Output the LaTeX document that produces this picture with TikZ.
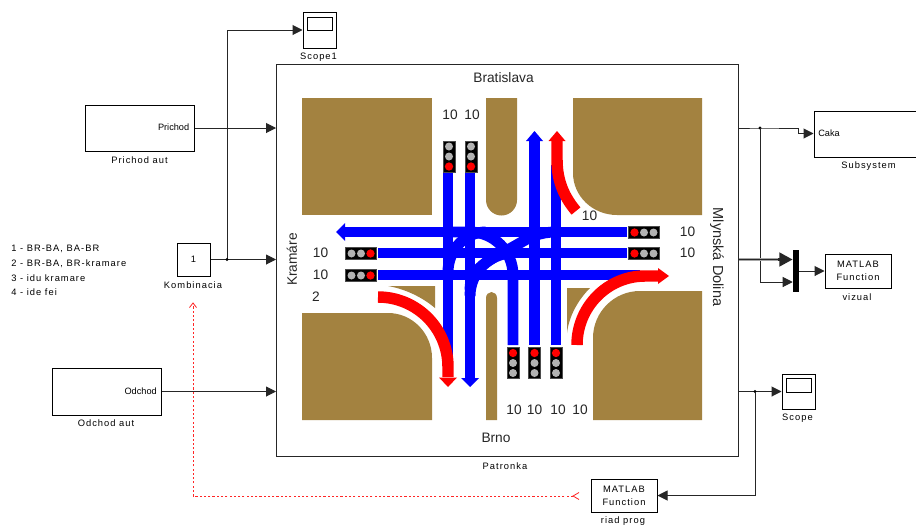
\documentclass[tikz,border=0pt]{standalone}
\usepackage{fontspec}
\setmainfont{Liberation Sans}
\newfontfamily\wide[LetterSpace=11]{Liberation Sans}
\usetikzlibrary{arrows.meta}
\definecolor{brownland}{RGB}{163,130,64}
\definecolor{lampgrey}{RGB}{178,178,178}
\tikzset{
  blockbox/.style={draw=black,line width=0.75pt,fill=white,inner sep=0pt,font=\fontsize{7pt}{9.6pt}\selectfont\wide,align=center},
  sig/.style={draw=black!85,line width=0.75pt,-{Triangle[length=7.5pt,width=7.5pt]}},
  sigplain/.style={draw=black!85,line width=0.75pt},
  blockcap/.style={font=\fontsize{7pt}{9pt}\selectfont\wide,inner sep=0pt},
  innerlabel/.style={font=\fontsize{6.9pt}{8pt}\selectfont,inner sep=0pt},
  listtext/.style={font=\fontsize{7pt}{9pt}\selectfont\wide,inner sep=0pt,anchor=west},
  big/.style={font=\fontsize{10.3pt}{12pt}\selectfont,inner sep=0pt,text=black!85},
  bigside/.style={font=\fontsize{10.9pt}{12pt}\selectfont,inner sep=0pt,text=black!85},
  land/.style={fill=brownland,draw=none},
  bluelane/.style={draw=blue,line width=8.2pt},
  redlane/.style={draw=red,line width=8.6pt},
  bluehead/.style={fill=blue,draw=none},
  redhead/.style={fill=red,draw=none},
  lampcase/.style={fill=black,draw=black!70,line width=0.4pt},
  blobdot/.style={fill=black,circle,inner sep=0pt,minimum size=2.4pt},
  reddash/.style={draw=red!85,line width=0.6pt,dash pattern=on 1.6pt off 1.6pt}
}
\newcommand{\vlampR}[3]{%
  \fill[lampcase] (#1-6,#2) rectangle (#1+6,#2+31);
  \foreach \k in {0,1,2}{\pgfmathtruncatemacro{\isred}{\k==#3?1:0}
    \ifnum\isred=1 \fill[red] (#1,#2+5.5+\k*10) circle (3.1pt);\else\fill[lampgrey] (#1,#2+5.5+\k*10) circle (3pt);\fi}}
\newcommand{\hlampR}[3]{%
  \fill[lampcase] (#1,#2-6) rectangle (#1+31,#2+6);
  \foreach \k in {0,1,2}{\pgfmathtruncatemacro{\isred}{\k==#3?1:0}
    \ifnum\isred=1 \fill[red] (#1+6+\k*9.5,#2) circle (3.1pt);\else\fill[lampgrey] (#1+6+\k*9.5,#2) circle (3pt);\fi}}
\begin{document}
\begin{tikzpicture}[x=0.75pt,y=-0.75pt]
\useasboundingbox (0,0) rectangle (916,525);
\fill[white] (0,0) rectangle (916,525);

% main subsystem
\node[draw=black!85,line width=0.75pt,fill=white,inner sep=0pt,minimum width=462*0.75pt,minimum height=392*0.75pt] (patronka) at (507.5,260) {};
\node[blockcap] (patronkalabel) at (505,466) {Patronka};

% land
\fill[land] (302,98) rectangle (432,215);
\fill[land] (486,98) -- (517,98) -- (517,200) arc[start angle=0,end angle=-180,x radius=15.5,y radius=-15.5] -- cycle;
\fill[land] (573,98) -- (702,98) -- (702,215) -- (617,215) arc[start angle=270,end angle=180,x radius=44,y radius=-42] -- cycle;
\fill[land] (302,313) -- (388,313) arc[start angle=90,end angle=0,x radius=44,y radius=-45] -- (432,420) -- (302,420) -- cycle;
\fill[land] (388,286) -- (435,286) -- (435,308) .. controls (422,297) and (405,289) .. (388,286) -- cycle;
\fill[land] (486,298) arc[start angle=180,end angle=0,x radius=5.5,y radius=-6] -- (497,420) -- (486,420) -- cycle;
\fill[land] (593,420) -- (593,338) arc[start angle=180,end angle=90,x radius=47,y radius=-47] -- (702,291) -- (702,420) -- cycle;
\fill[land] (567,288) -- (590,288) .. controls (578,300) and (569,316) .. (567,333) -- cycle;

% blue lanes
\draw[bluelane] (448,173) -- (448,360);
\draw[bluelane] (470,173) -- (470,379);
\draw[bluelane] (513,345) -- (513,275) arc[start angle=0,end angle=90,x radius=43,y radius=-43] -- (448,232);
\draw[bluelane] (534.5,345) -- (534.5,141);
\draw[bluelane] (556,345) -- (556,165);
\draw[bluelane] (627,232) -- (344,232);
\draw[bluelane] (627,253) -- (378,253);
\draw[bluelane] (378,275) -- (640,275);
\draw[bluelane] (470,296) .. controls (470,272) and (490,253) .. (513,253);
\draw[bluelane] (448,272) .. controls (448,250) and (465,232) .. (486,232);
\draw[bluelane] (470,290) .. controls (470,265) and (495,258) .. (520,243) .. controls (530,237) and (540,232) .. (556,232);
\fill[bluehead] (336,232) -- (345,223) -- (345,241) -- cycle;
\fill[bluehead] (470,387) -- (461,378) -- (479,378) -- cycle;
\fill[bluehead] (534.5,131) -- (526,141) -- (543,141) -- cycle;

% red lanes
\draw[redlane] (576,211) .. controls (565,198) and (557,182) .. (557,160) -- (557,141);
\fill[redhead] (557,131) -- (548.5,141) -- (565.5,141) -- cycle;
\draw[redlane] (378,297) arc[start angle=90,end angle=0,x radius=70,y radius=-70] -- (448,377);
\fill[redhead] (448,387) -- (439,377.5) -- (457,377.5) -- cycle;
\draw[redlane] (577,345) arc[start angle=180,end angle=90,x radius=68,y radius=-69] -- (658,276);
\fill[redhead] (669,276) -- (658,268) -- (658,284) -- cycle;

% lamps
\vlampR{449}{141}{2}
\vlampR{471}{141}{2}
\vlampR{513}{347.5}{0}
\vlampR{534.5}{347.5}{0}
\vlampR{556}{347.5}{0}
\hlampR{345.5}{253.5}{2}
\hlampR{345.5}{275.5}{2}
\hlampR{628.5}{232.5}{0}
\hlampR{628.5}{253.5}{0}

% big labels
\node[big] (bratislava) at (503.5,78) {Bratislava};
\node[big] (brno) at (496,438) {Brno};
\node[big,rotate=90] (kramare) at (292,259.5) {Kramáre};
\node[bigside,rotate=-90] (mlynska) at (717,257) {Mlynská Dolina};
\foreach \nx/\ny/\nm in {450/115/a,472/115/b,589.5/216/c,687.5/232/d,687.5/253/e,320.5/253/f,320.5/275/g,514/410/h,534.5/410/i,558/410/j,580/410/k}
  \node[big] (n\nm) at (\nx,\ny) {10};
\node[big] (ntwo) at (316,297) {2};

% blocks
\node[blockbox,minimum width=109*0.75pt,minimum height=46*0.75pt] (prichod) at (139.5,128) {};
\node[innerlabel,anchor=east] (prichodin) at (189.5,127.5) {Prichod};
\node[blockcap] (prichodcap) at (139.5,160) {Prichod aut};
\node[blockbox,minimum width=109*0.75pt,minimum height=47*0.75pt] (odchod) at (106.5,391.5) {};
\node[innerlabel,anchor=east] (odchodin) at (157,391) {Odchod};
\node[blockcap] (odchodcap) at (106,423) {Odchod aut};
\node[blockbox,minimum width=33*0.75pt,minimum height=33*0.75pt] (komb) at (193.5,259.5) {1};
\node[blockcap] (kombcap) at (193,285) {Kombinacia};
\node[blockbox,minimum width=33*0.75pt,minimum height=36*0.75pt] (scopeone) at (319.5,30) {};
\draw[line width=0.7pt] (307,17) rectangle (332,30);
\node[blockcap] (scopeonecap) at (318.5,57) {Scope1};
\node[blockbox,minimum width=33*0.75pt,minimum height=35*0.75pt] (scope) at (798.5,391.5) {};
\draw[line width=0.7pt] (786,378) rectangle (811,392);
\node[blockcap] (scopecap) at (797.5,418) {Scope};
\node[blockbox,minimum width=110*0.75pt,minimum height=46*0.75pt] (subsys) at (869,134) {};
\node[innerlabel,anchor=west] (subsysin) at (818,133) {Caka};
\node[blockcap] (subsyscap) at (868.5,166) {Subsystem};
\node[blockbox,minimum width=66*0.75pt,minimum height=34*0.75pt] (viz) at (858,271) {MATLAB\\Function};
\node[blockcap] (vizcap) at (857,297) {vizual};
\node[blockbox,minimum width=66*0.75pt,minimum height=33*0.75pt] (riad) at (624,495.5) {MATLAB\\Function};
\node[blockcap] (riadcap) at (623,521) {riad prog};
\node[fill=black,inner sep=0pt,minimum width=6*0.75pt,minimum height=42*0.75pt] (mux) at (796,271) {};

% list
\node[listtext] (la) at (11,249) {1 - BR-BA, BA-BR};
\node[listtext] (lb) at (11,264) {2 - BR-BA, BR-kramare};
\node[listtext] (lc) at (11,278) {3 - idu kramare};
\node[listtext] (ld) at (11,292) {4 - ide fei};

% connectors
\coordinate (kj) at (227,259.5);
\coordinate (sj) at (760,128);
\coordinate (oj) at (755,391.5);
\draw[sig] (prichod.east) -- (prichod.east -| patronka.west);
\draw[sig] (odchod.east) -- (odchod.east -| patronka.west);
\draw[sig] (komb.east) -- (komb.east -| patronka.west);
\draw[sig] (kj) -- (kj |- scopeone.west) -- (scopeone.west);
\node[blobdot] (kjd) at (kj) {};
\draw[sigplain] (sj -| patronka.east) -- (sj) -- (798,128) -- (798,133.5);
\draw[sig] (798,133.5) -- (subsys.west |- 0,133.5);
\node[blobdot] (sjd) at (sj) {};
\draw[sig] (sj) -- (760,282) -- (mux.west |- 0,282);
\draw[draw=black!85,line width=2.6pt,-{Triangle[length=10pt,width=10pt]}] (patronka.east |- 0,259.5) -- (mux.west |- 0,259.5);
\draw[draw=black!35,line width=0.35pt] (738.5,258.6) -- (778,258.6) (738.5,260.4) -- (778,260.4);
\draw[sig] (mux.east) -- (viz.west);
\draw[sig] (oj -| patronka.east) -- (scope.west);
\node[blobdot] (ojd) at (oj) {};
\draw[sig] (oj) -- (oj |- riad.east) -- (riad.east);
\coordinate (rdash) at (573,496);
\coordinate (kdash) at (193,303);
\draw[reddash] (rdash) -- (193,496) -- (kdash);
\draw[draw=red!85,line width=0.6pt] (579,492.5) -- (573,496) -- (579,499.5);
\draw[draw=red!85,line width=0.6pt] (189.5,307.5) -- (193,303) -- (196.5,307.5);
\end{tikzpicture}
\end{document}
